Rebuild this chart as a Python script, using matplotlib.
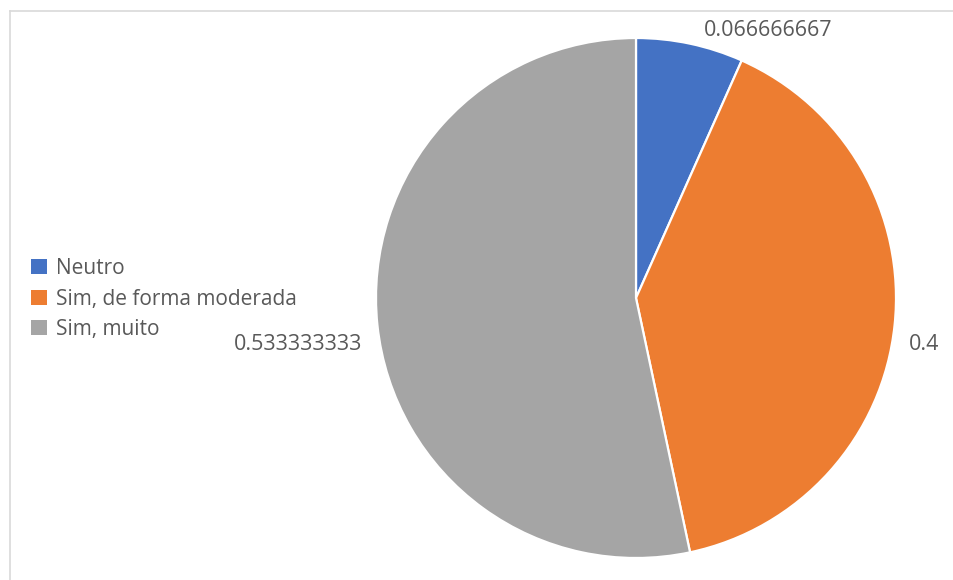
import matplotlib.pyplot as plt
from matplotlib.lines import Line2D
from matplotlib.patches import Patch

plt.rcParams['font.family'] = ['Open Sans', 'DejaVu Sans']

categorias = ['Neutro', 'Sim, de forma moderada', 'Sim, muito']
valores = [0.066666667, 0.4, 0.533333333]
cores = ['#4472C4', '#ED7D31', '#A5A5A5']

# onde cada rotulo de valor fica (pixels, origem em cima a esquerda)
pos_rotulos = [(768, 30), (924, 344), (298, 344)]

W, H = 954, 580
fig = plt.figure(figsize=(W / 100, H / 100), dpi=100)
ax = fig.add_axes([0, 0, 1, 1])

ax.pie(valores, colors=cores, startangle=90, counterclock=False,
       center=(636, H - 298), radius=260,
       wedgeprops=dict(edgecolor='white', linewidth=1.6))
ax.set_xlim(0, W)
ax.set_ylim(0, H)
ax.set_aspect('equal')
ax.axis('off')

for v, (x, y) in zip(valores, pos_rotulos):
    txt = f'{v:.9f}'.rstrip('0')
    ax.text(x, H - y, txt, ha='center', va='center', fontsize=15.5, color='#595959')

# borda cinza clara do quadro
fig.add_artist(Line2D([10 / W, 10 / W], [0, 1 - 11 / H], color='#d9d9d9', lw=1.2))
fig.add_artist(Line2D([10 / W, 1.01], [1 - 11 / H, 1 - 11 / H], color='#d9d9d9', lw=1.2))

handles = [Patch(facecolor=c, edgecolor='none') for c in cores]
leg = fig.legend(handles, categorias, loc='center left',
                 bbox_to_anchor=(31 / W, 1 - 299 / H), frameon=False,
                 fontsize=15, handlelength=0.75, handleheight=0.75,
                 handletextpad=0.45, labelspacing=0.45, borderaxespad=0,
                 borderpad=0)
for t in leg.get_texts():
    t.set_color('#595959')

fig.savefig('out.png', dpi=100, facecolor='white')
